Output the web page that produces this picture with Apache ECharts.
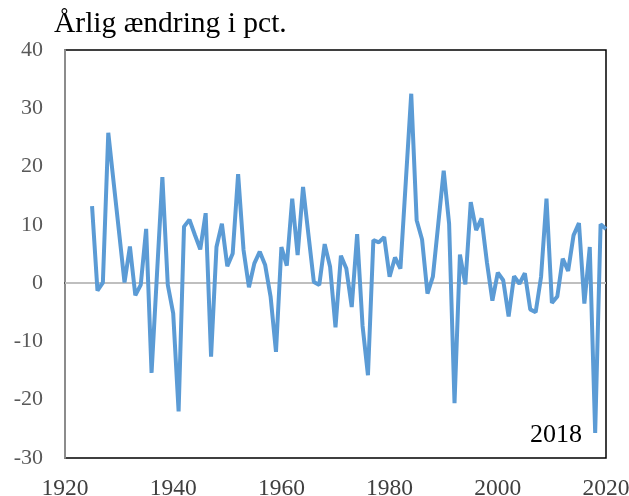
<!DOCTYPE html>
<html>
<head>
<meta charset="utf-8">
<script src="https://cdn.jsdelivr.net/npm/echarts@6/dist/echarts.min.js"></script>
<style>html,body{margin:0;padding:0;background:#fff;}#c{width:629px;height:496px;}</style>
</head>
<body>
<div id="c"></div>
<script>
var years = [];
for (var y = 1925; y <= 2020; y++) years.push(y);
var values = [
  13.2, -1.3, 0.1, 25.8, 17.2, 8.7, 0.1, 6.3, -2.1, -0.3,
  9.3, -15.4, 1.5, 18.2, -0.3, -5.2, -22.0, 9.7, 10.9, 8.3,
  5.8, 12.0, -12.6, 6.2, 10.2, 2.9, 5.1, 18.7, 5.7, -0.7,
  3.4, 5.4, 3.1, -2.3, -11.8, 6.2, 3.0, 14.5, 4.8, 16.5,
  8.3, 0.2, -0.3, 6.7, 2.8, -7.6, 4.7, 2.5, -4.1, 8.4,
  -7.3, -15.8, 7.4, 7.0, 7.9, 1.1, 4.4, 2.5, 17.5, 32.5,
  10.8, 7.5, -1.8, 1.1, 10.2, 19.3, 10.2, -20.6, 4.9, -0.2,
  13.9, 9.1, 11.1, 3.5, -3.0, 1.8, 0.5, -5.7, 1.2, -0.1,
  1.7, -4.5, -5.0, 1.1, 14.5, -3.4, -2.3, 4.2, 2.1, 8.2,
  10.3, -3.5, 6.2, -25.7, 10.1, 9.3
];
var xTicks = [1920, 1940, 1960, 1980, 2000, 2020];
var yTicks = [-30, -20, -10, 0, 10, 20, 30, 40];
var titleText = 'Årlig ændring i pct.';
var noteText = '2018';

var data = years.map(function (yr, i) { return [yr, values[i]]; });
var chart = echarts.init(document.getElementById('c'), null, {renderer: 'canvas'});
var serif = '"Liberation Serif", "DejaVu Serif", serif';
chart.setOption({
  animation: false,
  backgroundColor: '#fff',
  title: {
    text: titleText, left: 49, top: 4,
    textStyle: {fontFamily: serif, fontSize: 29.5, fontWeight: 'normal', color: '#000'}
  },
  grid: {left: 65, right: 23, top: 50, bottom: 38, show: true, borderColor: '#000', borderWidth: 1.5,
    backgroundColor: 'transparent', outerBoundsMode: 'none', containLabel: false},
  xAxis: {
    type: 'value', min: xTicks[0], max: xTicks[xTicks.length - 1], interval: 20,
    axisLine: {show: true, lineStyle: {color: '#000', width: 1.5}},
    axisTick: {show: false},
    splitLine: {show: false},
    axisLabel: {fontFamily: serif, fontSize: 23.5, color: '#404040', margin: 19,
      formatter: function (v) { return String(v); }}
  },
  yAxis: {
    type: 'value', min: yTicks[0], max: yTicks[yTicks.length - 1], interval: 10,
    axisLine: {show: true, lineStyle: {color: '#8c8c8c', width: 2}},
    axisTick: {show: false},
    splitLine: {show: false},
    axisLabel: {fontFamily: serif, fontSize: 22, color: '#595959', margin: 22}
  },
  series: [{
    type: 'line', data: data, showSymbol: false, symbol: 'none',
    lineStyle: {color: '#5b9bd5', width: 4}, z: 3,
    markLine: {
      silent: true, symbol: ['none', 'none'], label: {show: false},
      lineStyle: {color: '#bfbfbf', width: 2, type: 'solid'},
      data: [{yAxis: 0}], z: 1
    }
  }],
  graphic: [{
    type: 'text', left: 530, top: 422,
    style: {text: noteText, font: '26px ' + serif, fill: '#000'}
  }]
});
</script>
</body>
</html>
